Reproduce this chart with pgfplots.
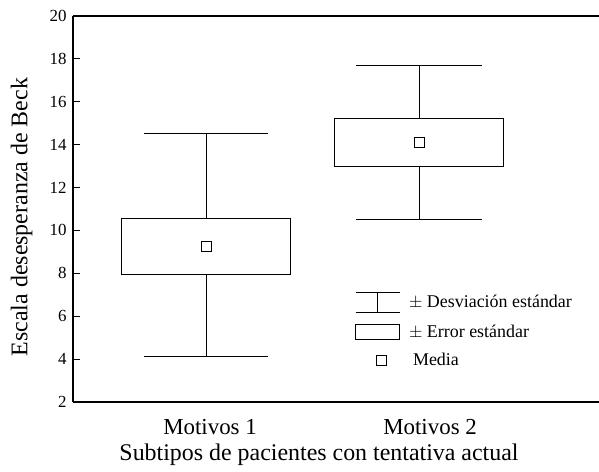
\documentclass[border=0pt]{standalone}
\usepackage{fontspec}
\setmainfont{Liberation Serif}
\usepackage{pgfplots}
\pgfplotsset{compat=1.18}
\usetikzlibrary{calc}

% columns: x, y (nan separates segments)
\pgfplotstableread{
x y
0.6035 7.97
1.3965 7.97
1.3965 10.58
0.6035 10.58
0.6035 7.97
}\boxA
\pgfplotstableread{
x y
1 10.58
1 14.5
nan nan
0.71 14.5
1.29 14.5
nan nan
1 7.97
1 4.14
nan nan
0.71 4.14
1.29 4.14
}\whiskA
\pgfplotstableread{
x y
1.605 13.0
2.395 13.0
2.395 15.2
1.605 15.2
1.605 13.0
}\boxB
\pgfplotstableread{
x y
2 15.2
2 17.71
nan nan
1.706 17.71
2.294 17.71
nan nan
2 13.0
2 10.49
nan nan
1.706 10.49
2.294 10.49
}\whiskB
\pgfplotstableread{
x y
1 9.23
2 14.08
}\means

\begin{document}
\begin{tikzpicture}
\begin{axis}[
 name=ax,
 scale only axis,
 width=526bp, height=386bp,
 xmin=0.3756, xmax=2.845,
 ymin=2, ymax=20,
 axis x line*=box, axis y line*=left,
 axis line style={line width=1.1bp, black},
 ytick={2,4,...,20},
 xtick={1.019,2.052},
 xticklabels={Motivos 1, Motivos 2},
 x tick style={draw=none},
 y tick style={line width=1bp, black},
 tick align=inside,
 major tick length=7bp,
 unbounded coords=jump,
 /pgf/number format/assume math mode=true,
 yticklabel style={font=\fontsize{17}{20}\selectfont, xshift=-3bp},
 xticklabel style={font=\fontsize{23}{27}\selectfont, yshift=-13.6bp},
 xlabel={Subtipos de pacientes con tentativa actual},
 xlabel style={font=\fontsize{24}{28}\selectfont, at={(axis description cs:0.4677,-0.137)}, anchor=center},
 ylabel={Escala desesperanza de Beck},
 ylabel style={font=\fontsize{24}{28}\selectfont, at={(axis description cs:-0.0975,0.479)}, anchor=center},
 legend style={at={(axis description cs:0.536,0.285)}, anchor=north west, draw=none, fill=none,
   inner sep=0pt, font=\fontsize{18}{21}\selectfont, row sep=10.5bp, column sep=7bp, cells={anchor=west}},
]
\addlegendimage{legend image code/.code={\draw[line width=0.95bp] (0bp,-9.7bp)--(44bp,-9.7bp) (0bp,9.7bp)--(44bp,9.7bp) (22bp,-9.7bp)--(22bp,9.7bp);}}
\addlegendentry{$\pm$ Desviación estándar}
\addlegendimage{legend image code/.code={\draw[line width=0.95bp] (0bp,-7.8bp) rectangle (44bp,7.8bp);}}
\addlegendentry{$\pm$ Error estándar}
\addlegendimage{legend image code/.code={\draw[line width=0.95bp] (21bp,-5bp) rectangle (31bp,5bp);}}
\addlegendentry{\hspace{4bp}Media}

\addplot[forget plot, black, line width=0.95bp, line join=miter, mark=none] table[x=x,y=y] {\boxA} -- cycle;
\addplot[forget plot, black, line width=0.95bp, mark=none] table[x=x,y=y] {\whiskA};
\addplot[forget plot, black, line width=0.95bp, line join=miter, mark=none] table[x=x,y=y] {\boxB} -- cycle;
\addplot[forget plot, black, line width=0.95bp, mark=none] table[x=x,y=y] {\whiskB};
\addplot[forget plot, only marks, mark=square, mark size=5bp, black, line width=0.95bp] table[x=x,y=y] {\means};
\end{axis}
\pgfresetboundingbox
\path[use as bounding box] ($(ax.south west)+(-73bp,-70bp)$) rectangle ($(ax.north east)+(0bp,16bp)$);
\end{tikzpicture}
\end{document}
